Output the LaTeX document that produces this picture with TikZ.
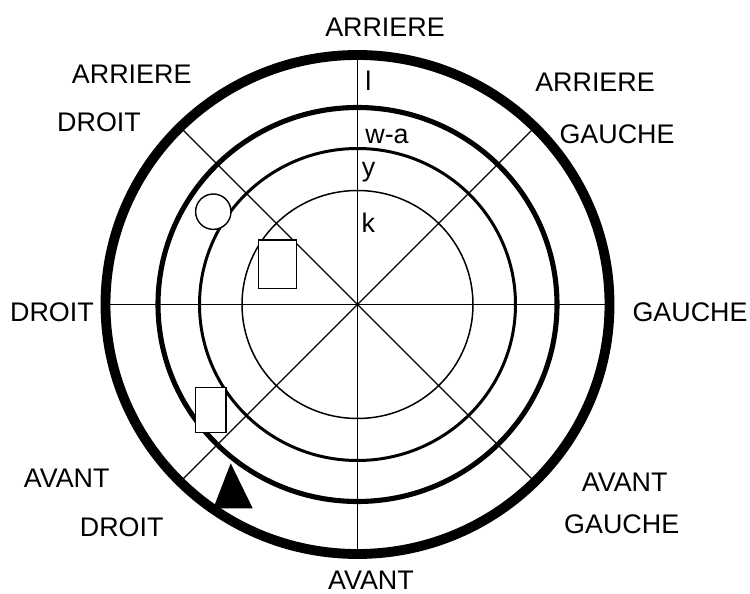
\documentclass[tikz,border=0pt]{standalone}
\usepackage{fontspec}
\setmainfont{Liberation Sans}
\usepackage{tikz}
\usetikzlibrary{positioning}
\tikzset{
  rd/lbl/.style={font=\fontsize{15.3}{18}\selectfont, inner sep=0pt,
    anchor=base},
  rd/ring/.style={font=\fontsize{15.3}{18}\selectfont, inner sep=0pt,
    anchor=base west},
  rd/axis/.style={line width=0.75pt},
  rd/obj/.style={draw, fill=white, line width=0.8pt}
}
\begin{document}
\begin{tikzpicture}[x=0.02cm, y=0.02cm]
  \useasboundingbox (-357.5,-289.5) rectangle (392.5,304.5);

  % axes and diagonals
  \draw[rd/axis] (-252,0) -- (252,0);
  \draw[rd/axis] (0,-249.5) -- (0,249.5);
  \draw[rd/axis] (135:247) -- (-45:247);
  \draw[rd/axis] (45:247) -- (-135:247);

  % rings
  \draw[line width=5.6pt] (0,0) ellipse [x radius=252, y radius=249.5];
  \draw[line width=2.9pt] (0,0) ellipse [x radius=199.5, y radius=197];
  \draw[line width=1.7pt] (0,0) ellipse [x radius=158, y radius=156];
  \draw[line width=0.85pt] (0,0) ellipse [x radius=115.5, y radius=114];

  % objects
  \draw[rd/obj] (-144.2,92.8) circle [radius=17.7];
  \draw[rd/obj] (-99.2,64.5) rectangle (-61.2,15.8);
  \draw[rd/obj] (-161.8,-82.8) rectangle (-131.5,-128.2);
  \fill (-126.8,-158.8) -- (-144.2,-203.8) -- (-104.8,-203.8) -- cycle;

  % ring names
  \node[rd/ring] (rl) at (7.4,213.8) {l};
  \node[rd/ring] (rwa) at (7.5,161.2) {w-a};
  \node[rd/ring] (ry) at (4,127.5) {y};
  \node[rd/ring] (rk) at (3.7,71.5) {k};

  % directions
  \node[rd/lbl] (ar) at (27.5,267.8) {ARRIERE};
  \node[rd/lbl] (av) at (13.5,-285.5) {AVANT};
  \node[rd/lbl] (dr) at (-305.5,-17.5) {DROIT};
  \node[rd/lbl] (ga) at (332.5,-17.5) {GAUCHE};
  \node[rd/lbl] (ard1) at (-225.8,221.2) {ARRIERE};
  \node[rd/lbl] (ard2) at (-258.5,172.8) {DROIT};
  \node[rd/lbl] (arg1) at (237.5,212.8) {ARRIERE};
  \node[rd/lbl] (arg2) at (259.5,161.2) {GAUCHE};
  \node[rd/lbl] (avd1) at (-290.8,-182.8) {AVANT};
  \node[rd/lbl] (avd2) at (-235.8,-232.2) {DROIT};
  \node[rd/lbl] (avg1) at (267.2,-187.2) {AVANT};
  \node[rd/lbl] (avg2) at (264.2,-229.5) {GAUCHE};
\end{tikzpicture}
\end{document}
